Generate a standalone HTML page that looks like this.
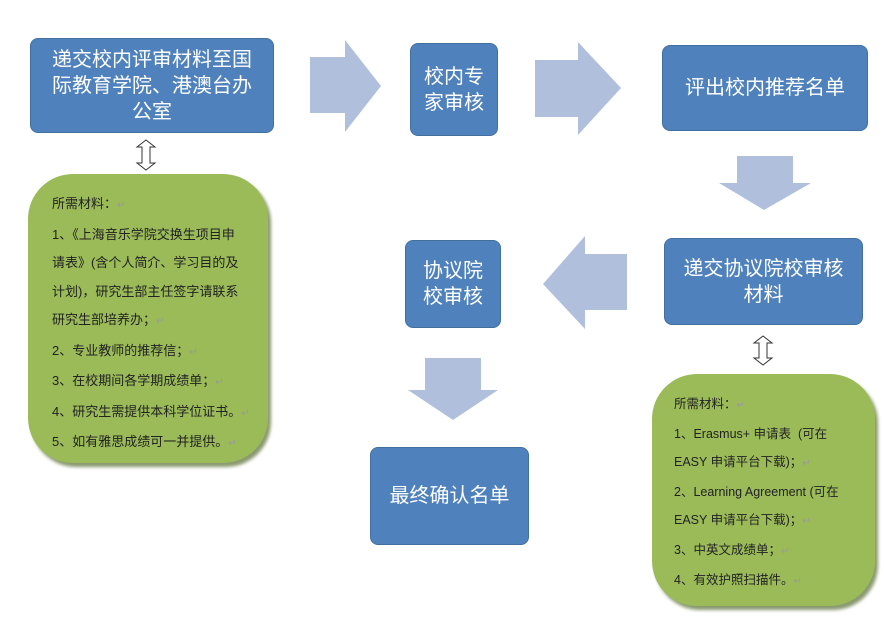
<!DOCTYPE html>
<html><head><meta charset="utf-8"><style>
body{margin:0;background:#fff;width:884px;height:626px;overflow:hidden;position:relative;font-family:"Liberation Sans","Noto Sans CJK SC",sans-serif}
.b{position:absolute;background:#4f81bd;border:1px solid #41709f;border-radius:8px;color:#fff;font-size:20px;line-height:26px;display:flex;align-items:center;justify-content:center;text-align:center;box-sizing:border-box}
.g{position:absolute;background:#9bbb59;border-radius:45px;box-shadow:3px 4px 3px #8a9a70;font-size:13px;color:#222;box-sizing:border-box}
.g p{margin:0;line-height:28.5px;white-space:nowrap}
.r{color:#999;font-size:10px}
</style></head><body>
<svg width="884" height="626" style="position:absolute;left:0;top:0">
<g fill="#b0c0dc">
<polygon points="310,57 345,57 345,40 381,86 345,132 345,113 310,113"/>
<polygon points="535,60 578,60 578,42 621,88 578,135 578,117 535,117"/>
<polygon points="737,156 793,156 793,183 811,183 764,210 719,183 737,183"/>
<polygon points="627,254 585,254 585,236 543,284 585,329 585,310 627,310"/>
<polygon points="425,358 481,358 481,390 498,390 453,420 408,390 425,390"/>
</g>
<g fill="#fff" stroke="#333" stroke-width="1">
<polygon points="146,140 155,147 150,147 150,163 155,163 146,170 137,163 142,163 142,147 137,147"/>
<polygon points="763,336 772,343 767,343 767,358 772,358 763,365 754,358 759,358 759,343 754,343"/>
</g>
</svg>
<div class="b" style="left:30px;top:38px;width:244px;height:95px">递交校内评审材料至国<br>际教育学院、港澳台办<br>公室</div>
<div class="b" style="left:410px;top:43px;width:88px;height:93px">校内专<br>家审核</div>
<div class="b" style="left:662px;top:45px;width:206px;height:86px">评出校内推荐名单</div>
<div class="b" style="left:664px;top:238px;width:199px;height:87px">递交协议院校审核<br>材料</div>
<div class="b" style="left:405px;top:240px;width:96px;height:88px">协议院<br>校审核</div>
<div class="b" style="left:370px;top:447px;width:159px;height:98px">最终确认名单</div>
<div class="g" style="left:28px;top:174px;width:240px;height:289px;padding:16px 0 0 24px">
<p>所需材料：<span class="r">↵</span></p>
<p>1、《上海音乐学院交换生项目申</p>
<p>请表》(含个人简介、学习目的及</p>
<p>计划)，研究生部主任签字请联系</p>
<p>研究生部培养办；<span class="r">↵</span></p>
<p>2、专业教师的推荐信；<span class="r">↵</span></p>
<p>3、在校期间各学期成绩单；<span class="r">↵</span></p>
<p>4、研究生需提供本科学位证书。<span class="r">↵</span></p>
<p>5、如有雅思成绩可一并提供。<span class="r">↵</span></p>
</div>
<div class="g" style="left:652px;top:374px;width:223px;height:232px;padding:16px 0 0 22px;font-size:12.5px">
<p style="line-height:28px">所需材料：<span class="r">↵</span></p>
<p style="line-height:28px">1、Erasmus+ 申请表 &nbsp;(可在</p>
<p style="line-height:28px">EASY 申请平台下载)；<span class="r">↵</span></p>
<p style="line-height:28px">2、Learning Agreement (可在</p>
<p style="line-height:28px">EASY 申请平台下载)；<span class="r">↵</span></p>
<p style="line-height:28px">3、中英文成绩单；<span class="r">↵</span></p>
<p style="line-height:28px">4、有效护照扫描件。<span class="r">↵</span></p>
</div>
</body></html>
